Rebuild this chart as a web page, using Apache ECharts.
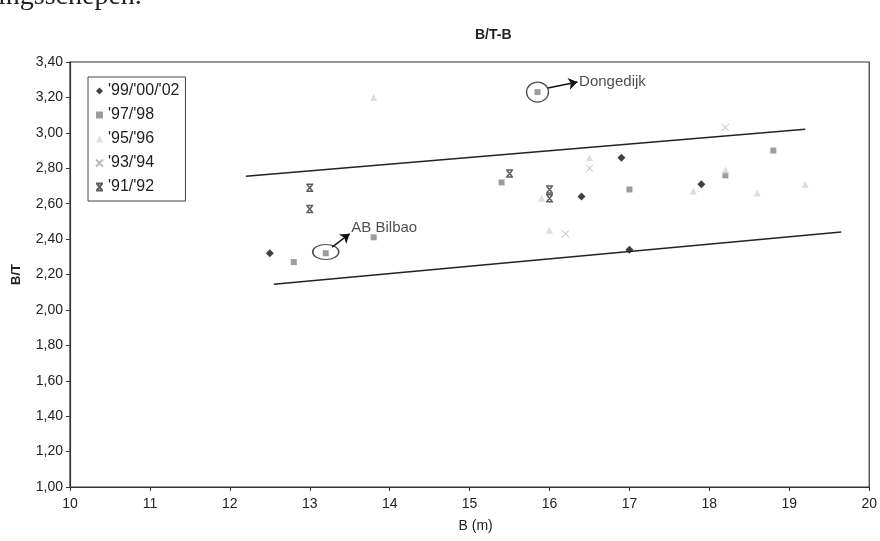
<!DOCTYPE html>
<html>
<head>
<meta charset="utf-8">
<title>B/T-B</title>
<script src="https://cdn.jsdelivr.net/npm/echarts@6/dist/echarts.min.js"></script>
<style>
  html, body { margin: 0; padding: 0; background: #fff; }
  #chart { width: 880px; height: 541px; }
</style>
</head>
<body>
<div id="chart"></div>
<script>
// data: [B (m), B/T]
var s99 = [[12.5, 2.32], [16.4, 2.64], [16.9, 2.86], [17.0, 2.34], [17.9, 2.71]];
var s97 = [[12.8, 2.27], [13.2, 2.32], [13.8, 2.41], [15.4, 2.72], [15.85, 3.23], [17.0, 2.68], [18.2, 2.76], [18.8, 2.90]];
var s95 = [[13.8, 3.20], [15.9, 2.63], [16.0, 2.45], [16.5, 2.86], [17.8, 2.67], [18.2, 2.79], [18.6, 2.66], [19.2, 2.71]];
var s93 = [[16.2, 2.43], [16.5, 2.80], [18.2, 3.03]];
var s91 = [[13.0, 2.69], [13.0, 2.57], [15.5, 2.77], [16.0, 2.68], [16.0, 2.63]];

// boundary lines
var upperLine = [[12.2, 2.755], [19.2, 3.02]];
var lowerLine = [[12.55, 2.145], [19.65, 2.44]];

var seriesNames = ["'99/'00/'02", "'97/'98", "'95/'96", "'93/'94", "'91/'92"];

// annotations
var circles = [[15.85, 3.23], [13.2, 2.327]];
var arrows = [
  [[15.98, 3.253], [16.35, 3.287]],
  [[13.28, 2.355], [13.5, 2.43]]
];
var notes = [[16.37, 3.287, 'Dongedijk'], [13.52, 2.463, 'AB Bilbao']];

var xSym = 'path://M0 0L10 10M10 0L0 10';
var xBarSym = 'path://M0 0L10 0M0 10L10 10M1.5 1L8.5 9M8.5 1L1.5 9';

var myChart = echarts.init(document.getElementById('chart'));
var fontFam = '"Liberation Sans", Arial, sans-serif';

var options = {
  backgroundColor: '#fff',
  animation: false,
  title: {
    text: 'B/T-B',
    left: 470,
    top: 23,
    textStyle: { fontSize: 14, fontWeight: 'bold', color: '#222', fontFamily: fontFam }
  },
  graphic: [
    {
      type: 'text', left: -2, top: -17,
      style: { text: 'ingsschepen.', font: '28px "Liberation Serif", serif', fill: '#222' }
    }
  ],
  legend: {
    data: seriesNames,
    orient: 'vertical',
    left: 88,
    top: 77,
    padding: [6, 6, 6, 7],
    itemWidth: 7,
    itemHeight: 7,
    itemGap: 8,
    borderColor: '#444',
    borderWidth: 1,
    backgroundColor: '#fff',
    textStyle: { fontSize: 16, lineHeight: 16, color: '#222', fontFamily: fontFam }
  },
  grid: {
    left: 70,
    right: 7,
    top: 62,
    bottom: 54,
    show: true,
    borderColor: '#333',
    borderWidth: 1.2
  },
  xAxis: {
    type: 'value',
    min: 10,
    max: 20,
    interval: 1,
    name: 'B (m)',
    nameLocation: 'middle',
    nameGap: 32,
    nameTextStyle: { fontSize: 14, color: '#222', fontFamily: fontFam, padding: [0, 0, 0, 12] },
    axisLine: { lineStyle: { color: '#333', width: 1.2 } },
    axisTick: { show: true, length: 4, lineStyle: { color: '#333' } },
    axisLabel: { margin: 10, fontSize: 14, color: '#222', fontFamily: fontFam },
    splitLine: { show: false }
  },
  yAxis: {
    type: 'value',
    min: 1.0,
    max: 3.4,
    interval: 0.2,
    name: 'B/T',
    nameLocation: 'middle',
    nameGap: 47,
    nameTextStyle: { fontSize: 13, fontWeight: 'bold', color: '#222', fontFamily: fontFam },
    axisLine: { show: true, lineStyle: { color: '#333', width: 1.2 } },
    axisTick: { show: true, length: 4, lineStyle: { color: '#333' } },
    axisLabel: {
      margin: 7, fontSize: 14, color: '#222', fontFamily: fontFam,
      formatter: function (v) { return v.toFixed(2).replace('.', ','); }
    },
    splitLine: { show: false }
  },
  series: [
    {
      name: seriesNames[0], type: 'scatter', data: s99,
      symbol: 'diamond', symbolSize: 8,
      itemStyle: { color: '#111' }
    },
    {
      name: seriesNames[1], type: 'scatter', data: s97,
      symbol: 'rect', symbolSize: 6,
      itemStyle: { color: '#858585' }
    },
    {
      name: seriesNames[2], type: 'scatter', data: s95,
      symbol: 'triangle', symbolSize: 7,
      itemStyle: { color: '#d6d6d6' }
    },
    {
      name: seriesNames[3], type: 'scatter', data: s93,
      symbol: xSym, symbolSize: 7,
      itemStyle: { color: '#aaa', borderColor: '#aaa', borderWidth: 1 }
    },
    {
      name: seriesNames[4], type: 'scatter', data: s91,
      symbol: xBarSym, symbolSize: 7,
      itemStyle: { color: '#333', borderColor: '#333', borderWidth: 1.5 }
    },
    {
      type: 'line', data: upperLine, symbol: 'none', silent: true,
      lineStyle: { color: '#222', width: 1.5 }
    },
    {
      type: 'line', data: lowerLine, symbol: 'none', silent: true,
      lineStyle: { color: '#222', width: 1.5 }
    },
    {
      type: 'scatter', silent: true, z: 1,
      data: [
        { value: circles[0], symbolSize: [22, 20] },
        { value: circles[1], symbolSize: [26, 15] }
      ],
      symbol: 'circle',
      itemStyle: { color: 'rgba(0,0,0,0)', borderColor: '#222', borderWidth: 1.3 },
      markLine: {
        silent: true,
        symbol: ['none', 'arrow'],
        symbolSize: 9,
        label: { show: false },
        lineStyle: { color: '#111', type: 'solid', width: 1.5 },
        data: arrows.map(function (a) {
          return [{ coord: a[0] }, { coord: a[1] }];
        })
      }
    },
    {
      type: 'scatter', silent: true, symbolSize: 0,
      data: notes.map(function (n) { return { value: [n[0], n[1]], name: n[2] }; }),
      label: {
        show: true, position: 'right', distance: 0,
        formatter: '{b}', fontSize: 15, color: '#222', fontFamily: fontFam
      }
    }
  ]
};
myChart.setOption(options);
</script>
</body>
</html>
